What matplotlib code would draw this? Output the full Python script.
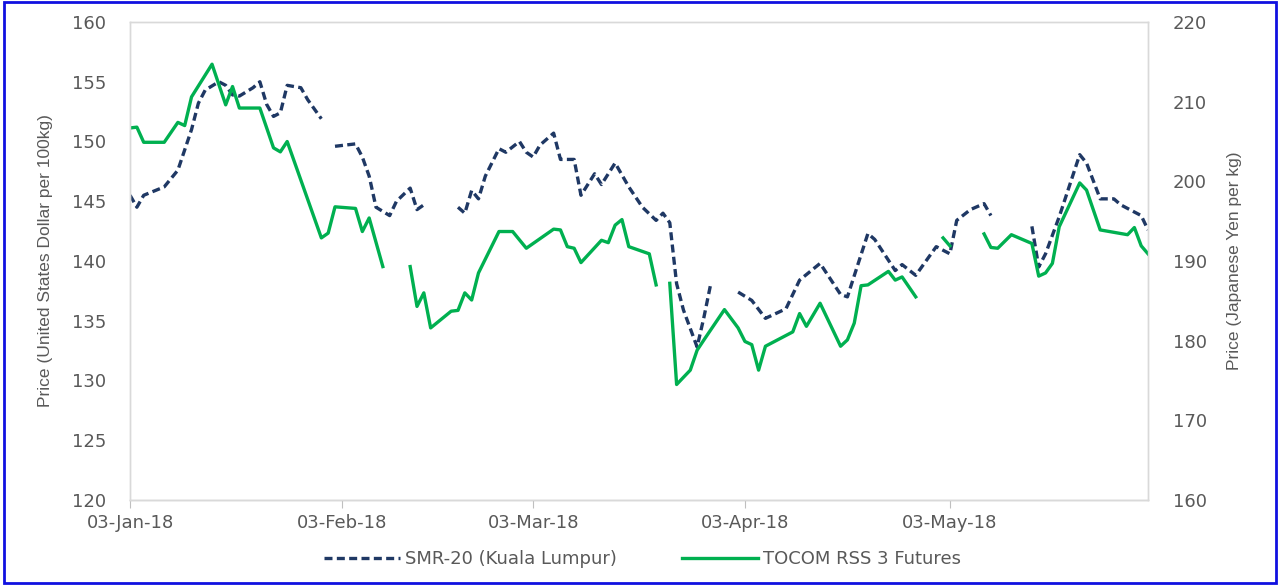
import numpy as np
import pandas as pd
import matplotlib
matplotlib.use("Agg")
import matplotlib.pyplot as plt
import matplotlib.dates as mdates
from matplotlib.patches import Rectangle

nan = np.nan

# SMR-20 (Kuala Lumpur), USD per 100kg -> left axis
smr_dates = [
    "2018-01-03", "2018-01-04", "2018-01-05", "2018-01-08", "2018-01-10", "2018-01-11",
    "2018-01-12", "2018-01-13", "2018-01-14", "2018-01-16", "2018-01-17", "2018-01-18",
    "2018-01-19", "2018-01-21", "2018-01-22", "2018-01-23", "2018-01-24", "2018-01-25",
    "2018-01-26", "2018-01-28", "2018-01-29", "2018-01-31", "2018-02-01", "2018-02-02",
    "2018-02-05", "2018-02-06", "2018-02-07", "2018-02-08", "2018-02-10", "2018-02-11",
    "2018-02-13", "2018-02-14", "2018-02-15", "2018-02-17", "2018-02-20", "2018-02-21",
    "2018-02-22", "2018-02-23", "2018-02-24", "2018-02-26", "2018-02-27", "2018-03-01",
    "2018-03-02", "2018-03-03", "2018-03-04", "2018-03-06", "2018-03-07", "2018-03-09",
    "2018-03-10", "2018-03-12", "2018-03-13", "2018-03-15", "2018-03-17", "2018-03-19",
    "2018-03-21", "2018-03-22", "2018-03-23", "2018-03-24", "2018-03-25", "2018-03-27",
    "2018-03-28", "2018-03-29", "2018-03-31", "2018-04-02", "2018-04-04", "2018-04-06",
    "2018-04-09", "2018-04-11", "2018-04-14", "2018-04-17", "2018-04-18", "2018-04-21",
    "2018-04-22", "2018-04-25", "2018-04-26", "2018-04-28", "2018-05-01", "2018-05-03",
    "2018-05-04", "2018-05-06", "2018-05-08", "2018-05-09", "2018-05-11", "2018-05-15",
    "2018-05-16", "2018-05-17", "2018-05-19", "2018-05-22", "2018-05-23", "2018-05-25",
    "2018-05-27", "2018-05-28", "2018-05-31", "2018-06-01",
]
smr_values = [
    145.5, 144.5, 145.5, 146.2, 147.6, 149.3,
    151.0, 153.2, 154.3, 155.0, 154.7, 153.9,
    153.8, 154.5, 155.0, 153.1, 152.1, 152.4,
    154.7, 154.5, 153.5, 151.9, nan, 149.6,
    149.8, 148.7, 147.1, 144.5, 143.8, 145.0,
    146.1, 144.3, 144.7, nan, 144.5, 144.0,
    145.9, 145.2, 147.1, 149.4, 149.1, 150.0,
    149.1, 148.7, 149.7, 150.7, 148.5, 148.5,
    145.5, 147.3, 146.4, 148.2, 146.2, 144.5,
    143.4, 144.0, 143.2, 138.1, 135.9, 132.8,
    135.3, 138.1, nan, 137.4, 136.7, 135.2,
    136.0, 138.4, 139.8, 137.2, 137.0, 142.3,
    141.8, 139.2, 139.7, 138.8, 141.2, 140.6,
    143.4, 144.3, 144.8, 143.8, nan, 142.9,
    139.5, 140.6, 143.7, 148.9, 148.2, 145.2,
    145.2, 144.7, 143.8, 142.6,
]

# TOCOM RSS 3 Futures, JPY per kg -> right axis
tocom_dates = [
    "2018-01-03", "2018-01-04", "2018-01-05", "2018-01-08", "2018-01-10", "2018-01-11",
    "2018-01-12", "2018-01-15", "2018-01-17", "2018-01-18", "2018-01-19", "2018-01-22",
    "2018-01-24", "2018-01-25", "2018-01-26", "2018-01-31", "2018-02-01", "2018-02-02",
    "2018-02-05", "2018-02-06", "2018-02-07", "2018-02-09", "2018-02-12", "2018-02-13",
    "2018-02-14", "2018-02-15", "2018-02-16", "2018-02-19", "2018-02-20", "2018-02-21",
    "2018-02-22", "2018-02-23", "2018-02-26", "2018-02-28", "2018-03-02", "2018-03-06",
    "2018-03-07", "2018-03-08", "2018-03-09", "2018-03-10", "2018-03-13", "2018-03-14",
    "2018-03-15", "2018-03-16", "2018-03-17", "2018-03-20", "2018-03-21", "2018-03-22",
    "2018-03-23", "2018-03-24", "2018-03-26", "2018-03-27", "2018-03-28", "2018-03-31",
    "2018-04-02", "2018-04-03", "2018-04-04", "2018-04-05", "2018-04-06", "2018-04-10",
    "2018-04-11", "2018-04-12", "2018-04-14", "2018-04-17", "2018-04-18", "2018-04-19",
    "2018-04-20", "2018-04-21", "2018-04-24", "2018-04-25", "2018-04-26", "2018-04-28",
    "2018-05-01", "2018-05-02", "2018-05-03", "2018-05-07", "2018-05-08", "2018-05-09",
    "2018-05-10", "2018-05-12", "2018-05-15", "2018-05-16", "2018-05-17", "2018-05-18",
    "2018-05-19", "2018-05-22", "2018-05-23", "2018-05-25", "2018-05-29", "2018-05-30",
    "2018-05-31", "2018-06-01",
]
tocom_values = [
    206.7, 206.8, 204.9, 204.9, 207.4, 207.0,
    210.6, 214.7, 209.6, 211.9, 209.2, 209.2,
    204.2, 203.7, 205.0, 192.9, 193.5, 196.8,
    196.6, 193.7, 195.4, 189.3, nan, 189.3,
    184.3, 186.0, 181.6, 183.7, 183.8, 186.0,
    185.1, 188.5, 193.7, 193.7, 191.6, 194.0,
    193.9, 191.8, 191.6, 189.8, 192.6, 192.3,
    194.5, 195.2, 191.8, 190.9, 187.0, nan,
    187.2, 174.5, 176.3, 178.8, 180.1, 183.9,
    181.6, 179.9, 179.5, 176.3, 179.3, 181.1,
    183.4, 181.8, 184.7, 179.3, 180.1, 182.2,
    186.9, 187.0, 188.7, 187.6, 188.0, 185.5,
    nan, 192.9, 191.9, nan, 193.4, 191.7,
    191.6, 193.3, 192.2, 188.1, 188.5, 189.7,
    194.3, 199.8, 198.9, 193.9, 193.3, 194.2,
    191.9, 190.9,
]

tick_dates = ["2018-01-03", "2018-02-03", "2018-03-03", "2018-04-03", "2018-05-03"]

smr_x = pd.to_datetime(smr_dates)
tocom_x = pd.to_datetime(tocom_dates)

grey = "#595959"
fig = plt.figure(figsize=(12.8, 5.85), dpi=100)
ax1 = fig.add_axes([0.1016, 0.1453, 0.7953, 0.8171])
ax2 = ax1.twinx()

ax1.plot(smr_x, smr_values, color="#1F3864", lw=2.4, dashes=(2.4, 1.3),
         label="SMR-20 (Kuala Lumpur)")
ax2.plot(tocom_x, tocom_values, color="#00B050", lw=2.4,
         label="TOCOM RSS 3 Futures")

ax1.set_xlim(pd.Timestamp("2018-01-03"), pd.Timestamp("2018-06-01"))
ax1.set_ylim(120, 160)
ax1.set_yticks(np.arange(120, 161, 5))
ax2.set_ylim(160, 220)
ax2.set_yticks(np.arange(160, 221, 10))

ax1.set_xticks(pd.to_datetime(tick_dates))
ax1.xaxis.set_major_formatter(mdates.DateFormatter("%d-%b-%y"))

for ax in (ax1, ax2):
    for s in ax.spines.values():
        s.set_color("#D9D9D9")
        s.set_linewidth(1.0)
    ax.tick_params(axis="y", length=0, labelsize=13, labelcolor=grey)
ax1.spines["bottom"].set_color("#BFBFBF")
ax1.tick_params(axis="y", pad=17)
ax2.tick_params(axis="y", pad=18)
ax1.tick_params(axis="x", length=6, color="#BFBFBF", labelsize=13,
                labelcolor=grey, pad=4)

label_font = dict(family=["DejaVu Sans Condensed", "Liberation Sans Narrow", "Liberation Sans"],
                  size=12.5, color=grey)
ax1.set_ylabel("Price (United States Dollar per 100kg)", labelpad=14, **label_font)
ax2.set_ylabel("Price (Japanese Yen per kg)", labelpad=14, **label_font)

h1, l1 = ax1.get_legend_handles_labels()
h2, l2 = ax2.get_legend_handles_labels()
leg = fig.legend(h1 + h2, l1 + l2, loc="center", bbox_to_anchor=(0.502, 0.044),
                 ncol=2, frameon=False, fontsize=13, handlelength=4.2,
                 handletextpad=0.3, columnspacing=3.6)
for t in leg.get_texts():
    t.set_color(grey)

fig.patches.append(Rectangle((0.003, 0.004), 0.994, 0.992, transform=fig.transFigure,
                             fill=False, edgecolor="#1010E0", linewidth=2.0))

fig.savefig("out.png", dpi=100)
